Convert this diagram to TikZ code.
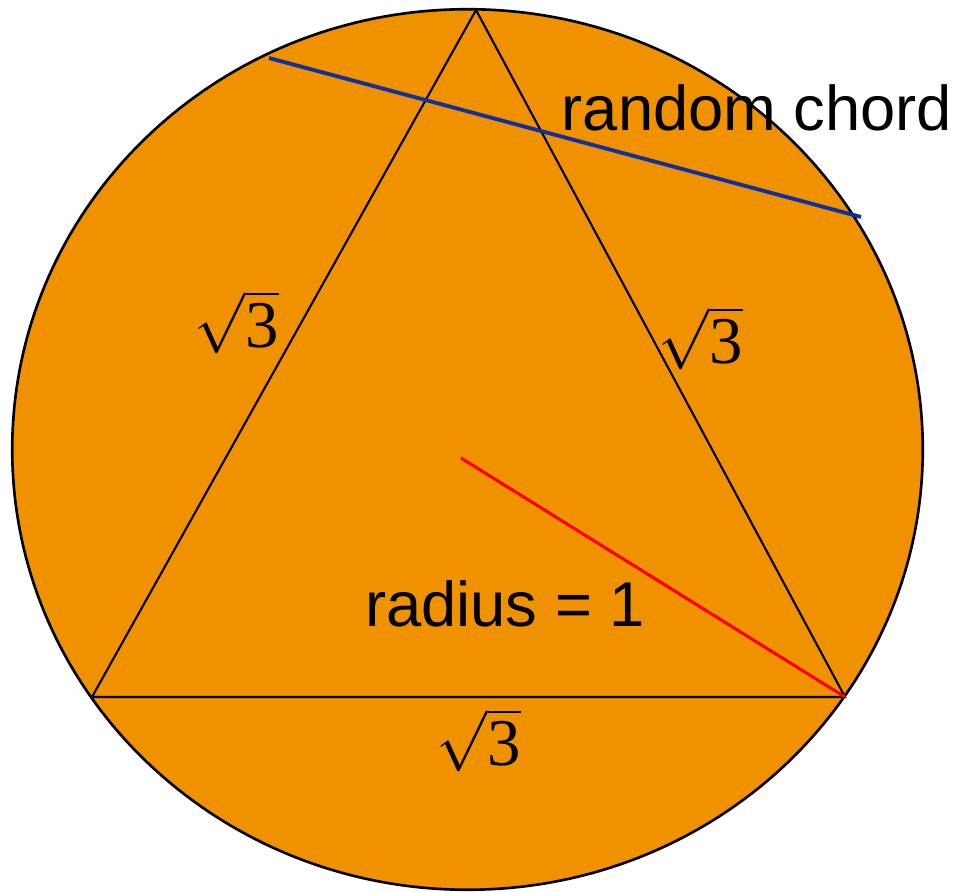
\documentclass[tikz,border=0pt]{standalone}
\usepackage{fontspec}
\setmainfont{Liberation Sans}
\newfontfamily\digitfont{Liberation Serif}
\usetikzlibrary{positioning}
\definecolor{discorange}{RGB}{240,146,0}
\definecolor{chordblue}{RGB}{16,48,160}
\tikzset{
    disc/.style = {draw, fill=discorange, line width=0.75pt},
    side/.style = {draw, line width=0.6pt},
    chord/.style = {draw, chordblue, line width=1.1pt},
    radiusline/.style = {draw, red, line width=0.9pt},
    caption/.style = {font=\fontsize{18}{20}\selectfont, inner sep=0pt},
    rootlabel/.style = {font=\fontsize{19}{22}\selectfont, inner sep=0pt}
}
\newcommand{\rootthree}{$\sqrt{\hbox{\digitfont 3}}$}

\begin{document}
\begin{tikzpicture}[x=0.01cm, y=-0.01cm]
        \useasboundingbox (0,0) rectangle (958,892);
        % Circle
        \coordinate (mid) at (467.5,449.5);
        \path [disc] (mid) ellipse [x radius=4.55cm, y radius=4.40cm];

        % Triangle corners and chord ends
        \coordinate (apex) at (476,10);
        \coordinate (left) at (92,697);
        \coordinate (right) at (845,697);
        \coordinate (centre) at (461,458);
        \coordinate (chordA) at (269,58);
        \coordinate (chordB) at (861,217);

        % Edges
        \path [side] (apex) -- (left) -- (right) -- cycle;
        \path [chord] (chordA) -- (chordB);
        \path [radiusline] (centre) -- (right);

        % Labels
        \node [caption] (chordtext) at (757,108) {random chord};
        \node [caption] (radiustext) at (505,604) {radius = 1};
        \node [rootlabel] (leftside) at (237,322) {\rootthree};
        \node [rootlabel] (rightside) at (701,338) {\rootthree};
        \node [rootlabel] (baseside) at (479,740) {\rootthree};
    \end{tikzpicture}
\end{document}
